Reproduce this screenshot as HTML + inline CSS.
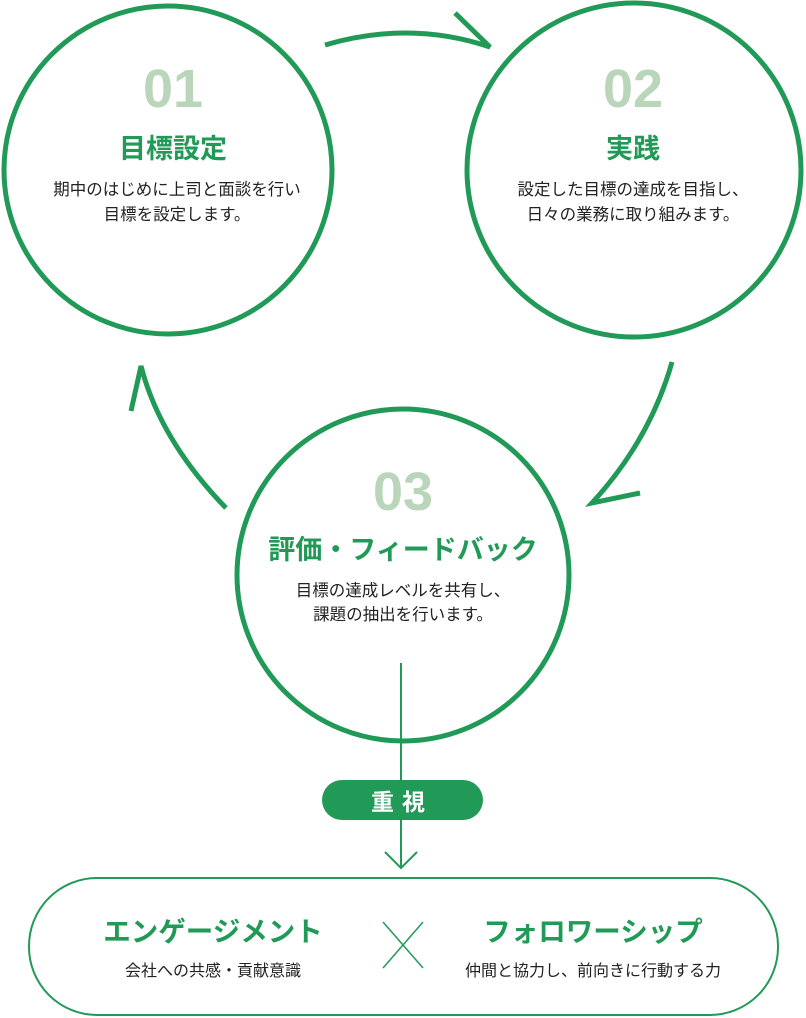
<!DOCTYPE html>
<html><head><meta charset="utf-8">
<style>
html,body{margin:0;padding:0;background:#fff;}
svg{display:block;}
.num{font-family:"Liberation Sans",sans-serif;font-weight:bold;font-size:54px;fill:#b9d6ba;text-anchor:middle;}
.ttl{font-family:"Liberation Sans","Noto Sans CJK JP",sans-serif;font-weight:bold;font-size:27px;fill:#229a57;text-anchor:middle;}
.bd{font-family:"Liberation Sans","Noto Sans CJK JP",sans-serif;font-size:16.5px;fill:#222;text-anchor:middle;}
.bt{font-family:"Liberation Sans","Noto Sans CJK JP",sans-serif;font-weight:bold;font-size:27.5px;fill:#229a57;text-anchor:middle;}
.bb{font-family:"Liberation Sans","Noto Sans CJK JP",sans-serif;font-size:16px;fill:#222;text-anchor:middle;}
</style></head><body>
<svg width="806" height="1018" viewBox="0 0 806 1018" xmlns="http://www.w3.org/2000/svg">
<g fill="none" stroke="#229a57" stroke-width="5">
<circle cx="168" cy="170" r="164"/>
<circle cx="634" cy="170" r="167"/>
<circle cx="403" cy="575" r="166"/>
<path d="M325 45 Q410 20 490 47 L455 13"/>
<path d="M226 508 Q160 440 141 366 L131 411"/>
<path d="M672 362 Q650 440 592 503 L640 493"/>
</g>
<text class="num" x="173" y="107">01</text>
<text class="ttl" x="173" y="158">目標設定</text>
<text class="bd" x="177" y="195">期中のはじめに上司と面談を行い</text>
<text class="bd" x="177" y="220">目標を設定します。</text>
<text class="num" x="633" y="107">02</text>
<text class="ttl" x="633" y="158">実践</text>
<text class="bd" x="633" y="195">設定した目標の達成を目指し、</text>
<text class="bd" x="633" y="220">日々の業務に取り組みます。</text>
<text class="num" x="403" y="510">03</text>
<text class="ttl" x="403" y="559">評価・フィードバック</text>
<text class="bd" x="403" y="596">目標の達成レベルを共有し、</text>
<text class="bd" x="403" y="620">課題の抽出を行います。</text>
<g stroke="#229a57" fill="none">
<line x1="401" y1="663" x2="401" y2="868" stroke-width="2"/>
<path d="M385 852 L401 868 L417 852" stroke-width="2"/>
<rect x="29" y="878" width="749" height="137" rx="68" stroke-width="2"/>
<path d="M383 922 L423 968 M423 922 L383 968" stroke-width="1.5"/>
</g>
<rect x="322" y="780" width="161" height="40" rx="20" fill="#229a57"/>
<text x="402" y="810" style="font-family:'Liberation Sans','Noto Sans CJK JP',sans-serif;font-weight:bold;font-size:23px;fill:#fff;text-anchor:middle;letter-spacing:8px">重視</text>
<text class="bt" x="213" y="941">エンゲージメント</text>
<text class="bb" x="213" y="976">会社への共感・貢献意識</text>
<text class="bt" x="593" y="941">フォロワーシップ</text>
<text class="bb" x="593" y="976">仲間と協力し、前向きに行動する力</text>
</svg>
</body></html>
